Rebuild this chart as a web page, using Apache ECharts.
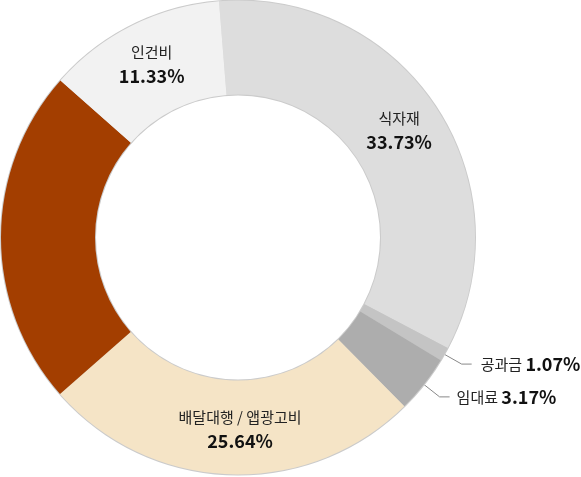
<!DOCTYPE html>
<html>
<head>
<meta charset="utf-8">
<script src="https://cdn.jsdelivr.net/npm/echarts@6/dist/echarts.min.js"></script>
<style>
  html, body { margin: 0; padding: 0; background: #fff; }
  #chart { width: 581px; height: 477px; }
</style>
</head>
<body>
<div id="chart"></div>
<script>
// slice names, clockwise from the top
var names = ['식자재', '공과금', '임대료', '배달대행 / 앱광고비', '기타', '인건비'];
// slice sizes as drawn (share of the ring)
var shares = [34.0, 0.95, 3.95, 25.9, 23.0, 12.2];
// percent text printed on the chart
var pctLabels = ['33.73%', '1.07%', '3.17%', '25.64%', '', '11.33%'];
var colors = ['#dddddd', '#c4c4c4', '#adadad', '#f5e4c6', '#a33e00', '#f2f2f2'];

var FONT = '"Noto Sans CJK KR", "Noto Sans", sans-serif';

var insideLabel = {
  show: true,
  position: 'inside',
  formatter: function (p) {
    return '{n|' + p.name + '}\n{p|' + pctLabels[p.dataIndex] + '}';
  },
  rich: {
    n: { fontFamily: FONT, fontSize: 15, color: '#222', lineHeight: 22 },
    p: { fontFamily: FONT, fontSize: 18, fontWeight: 'bold', color: '#111', lineHeight: 26 }
  }
};

function outsideLabel(gap) {
  return {
    show: true,
    position: 'outside',
    distanceToLabelLine: gap,
    formatter: function (p) {
      return '{n|' + p.name + '} {p|' + pctLabels[p.dataIndex] + '}';
    },
    rich: {
      n: { fontFamily: FONT, fontSize: 15, color: '#222' },
      p: { fontFamily: FONT, fontSize: 18, fontWeight: 'bold', color: '#111' }
    }
  };
}

var data = names.map(function (n, i) {
  var item = { name: n, value: shares[i], itemStyle: { color: colors[i] } };
  if (i === 1 || i === 2) {
    item.label = outsideLabel(i === 1 ? 9 : 7);
    item.labelLine = { show: true, length: 20, length2: 10, lineStyle: { color: '#888', width: 1 } };
  } else if (i === 4) {
    item.label = { show: false };
    item.labelLine = { show: false };
  } else {
    item.label = insideLabel;
    item.labelLine = { show: false };
  }
  if (i === 3) item.label = Object.assign({}, insideLabel, { offset: [9, 0] });
  return item;
});

var chart = echarts.init(document.getElementById('chart'));
chart.setOption({
  animation: false,
  series: [
    {
      // thin gray rim behind the ring
      type: 'pie',
      silent: true,
      center: [238, 237.5],
      radius: [142, 238],
      label: { show: false },
      labelLine: { show: false },
      data: [{ value: 1, itemStyle: { color: '#cbcbcb' } }]
    },
    {
      type: 'pie',
      center: [238, 237.5],
      radius: [143, 237],
      startAngle: 94.6,
      avoidLabelOverlap: false,
      itemStyle: { borderWidth: 0 },
      data: data
    }
  ]
});
</script>
</body>
</html>
